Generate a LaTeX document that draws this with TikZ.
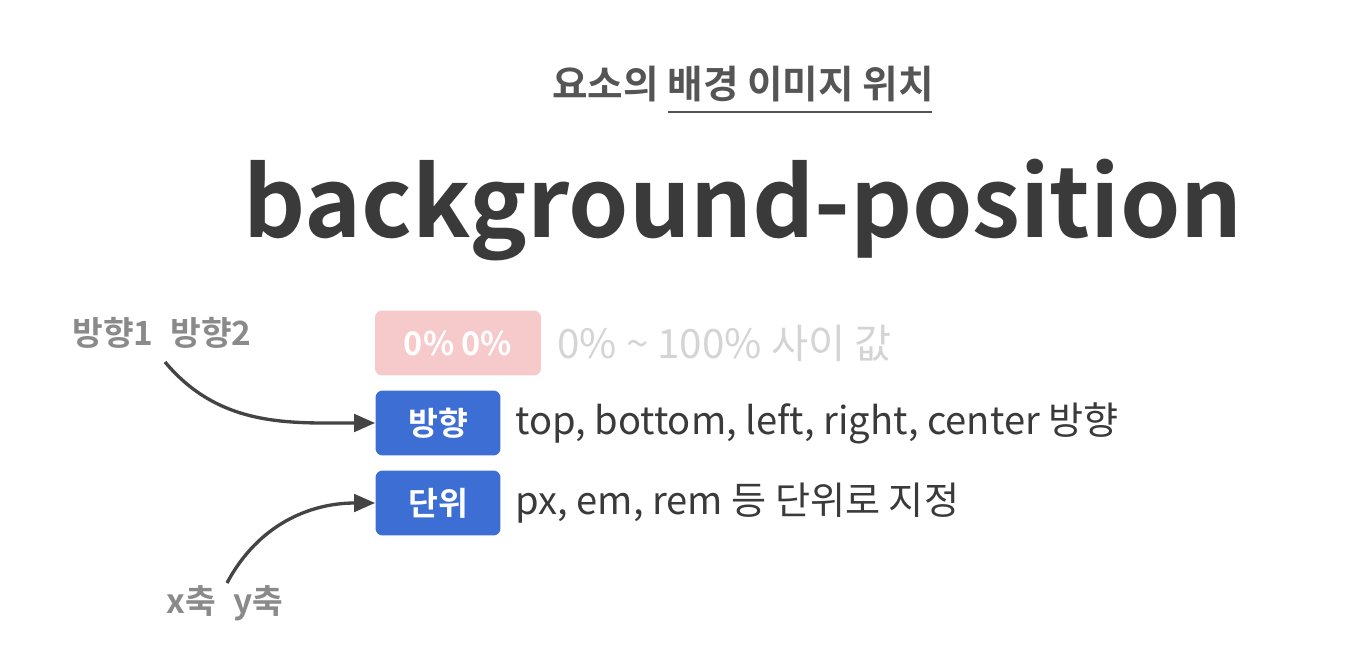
\documentclass[tikz,border=0pt]{standalone}
\usepackage{fontspec}
\setmainfont{Noto Sans CJK KR}[BoldFont={Noto Sans CJK KR Bold}]
\usetikzlibrary{positioning,arrows.meta}
\definecolor{boxblue}{RGB}{61,110,212}
\definecolor{boxpink}{RGB}{246,201,203}
\definecolor{textdark}{RGB}{58,58,58}
\definecolor{textgray}{RGB}{138,138,138}
\definecolor{textlight}{RGB}{212,212,212}
\definecolor{subgray}{RGB}{85,85,85}
\definecolor{arrowgray}{RGB}{68,68,68}
\begin{document}
\begin{tikzpicture}[
	x=0.02cm, y=-0.02cm,
	box/.style = {rounded corners=4pt, minimum width=2.5cm, minimum height=1.3cm, inner sep=0pt, text=white, font=\fontsize{18.5}{22}\selectfont\bfseries},
	desc/.style = {anchor=west, inner sep=0pt, font=\fontsize{21.7}{26}\selectfont},
	side/.style = {inner sep=0pt, text=textgray, font=\fontsize{19}{22}\selectfont\bfseries},
	link/.style = {draw=arrowgray, line width=1.9pt, -{Triangle[length=12pt,width=10pt]}}
]
\useasboundingbox (0,0) rectangle (1367,662);
\node[inner sep=0pt, text=subgray, font=\fontsize{22}{26}\selectfont\bfseries] (sub) at (743,84) {요소의 배경 이미지 위치};
\draw[subgray, line width=1.2pt] (668,112) -- (932,112);
\node[inner sep=0pt, text=textdark, font=\fontsize{55}{62}\selectfont\bfseries] (title) at (743,210) {background-position};
% rows
\node[box, fill=boxpink, minimum width=3.32cm] (pct) at (458,343) {0\% 0\%};
\node[desc, text=textlight, font=\fontsize{23}{27}\selectfont] (pcttext) at (557,343) {0\% \textasciitilde{} 100\% 사이 값};
\node[box, fill=boxblue] (dir) at (438,423) {방향};
\node[desc, text=textdark] (dirtext) at (515,423) {top, bottom, left, right, center 방향};
\node[box, fill=boxblue] (unit) at (438,503) {단위};
\node[desc, text=textdark] (unittext) at (515,503) {px, em, rem 등 단위로 지정};
% side labels
\node[side] (dirs) at (162,333) {방향1\enspace 방향2};
\node[side] (axes) at (225,603) {x축\enspace y축};
\coordinate (c1) at (165,362);
\coordinate (c2) at (227,583);
\draw[link] (c1) to[out=-50,in=180] (dir.west);
\draw[link] (c2) to[out=62,in=180] (unit.west);
\end{tikzpicture}
\end{document}
